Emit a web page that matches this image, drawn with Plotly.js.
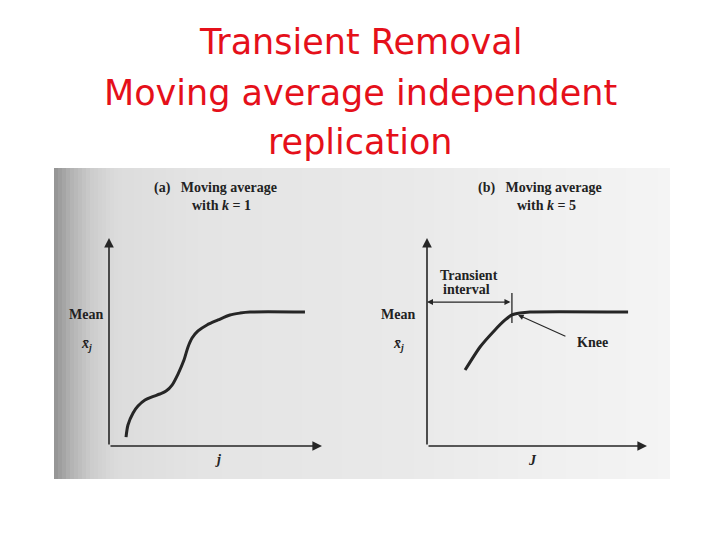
<!DOCTYPE html>
<html>
<head>
<meta charset="utf-8">
<script src="https://cdn.plot.ly/plotly-3.0.1.min.js"></script>
<style>html,body{margin:0;padding:0;background:#fff;}#chart{width:720px;height:540px;}</style>
</head>
<body>
<div id="chart"></div>
<script>
// ---- data (panel a: moving average with k = 1) ----
const aX = [0.80, 0.89, 1.13, 1.36, 1.69, 2.02, 2.39, 2.68, 2.96, 3.24, 3.52, 3.71, 3.90, 4.18, 4.60, 5.12, 5.68, 6.15, 6.62, 9.20];
const aY = [0.43, 1.01, 1.59, 1.92, 2.21, 2.36, 2.50, 2.64, 2.93, 3.46, 4.13, 4.76, 5.19, 5.53, 5.82, 6.06, 6.30, 6.39, 6.44, 6.44];
// ---- data (panel b: moving average with k = 5) ----
const bX = [1.73, 2.41, 3.09, 3.55, 3.86, 4.23, 4.68, 9.14];
const bY = [3.65, 4.76, 5.58, 6.06, 6.30, 6.39, 6.44, 6.44];
// knee / transient interval markers (data units of panel b)
const kneeX = 3.86;
const intervalTop = 7.36, intervalBottom = 5.91, intervalArrowY = 6.92;
const kneeLabelX = 6.36, kneeLabelY = 5.24, kneePointX = 4.14, kneePointY = 6.30;

// ---- text ----
const titleLines = ["Transient Removal", "Moving average independent", "replication"];
const panelTitles = [["(a)   Moving average", "with <i>k</i> = 1"], ["(b)   Moving average", "with <i>k</i> = 5"]];
const yLabel = "Mean", ySym = "<i>x̄</i><sub><i>j</i></sub>";
const xLabels = ["<i>j</i>", "<i>J</i>"];

const serif = {family: "Liberation Serif, DejaVu Serif, serif", size: 14, color: "#222"};
const ink = "#262626";

const traces = [
  {x: aX, y: aY, xaxis: "x", yaxis: "y", mode: "lines", line: {color: ink, width: 3, shape: "spline", smoothing: 0.8}, hoverinfo: "skip"},
  {x: bX, y: bY, xaxis: "x2", yaxis: "y2", mode: "lines", line: {color: ink, width: 3, shape: "spline", smoothing: 0.6}, hoverinfo: "skip"},
  {x: [kneeX, kneeX], y: [intervalBottom, intervalTop], xaxis: "x2", yaxis: "y2", mode: "lines", line: {color: ink, width: 1.3}, hoverinfo: "skip"}
];

// background scan gradient
const shapes = [];
const stops = [[54,150],[70,180],[90,205],[115,220],[200,228],[400,233],[550,240],[670,244]];
for (let px = 54; px < 670; px += 4) {
  let v = stops[stops.length-1][1];
  for (let i = 0; i < stops.length-1; i++) {
    if (px >= stops[i][0] && px < stops[i+1][0]) {
      const t = (px - stops[i][0]) / (stops[i+1][0] - stops[i][0]);
      v = Math.round(stops[i][1] + t*(stops[i+1][1]-stops[i][1]));
    }
  }
  shapes.push({type: "rect", xref: "paper", yref: "paper", x0: px/720, x1: Math.min(px+4,670)/720, y0: (540-479)/540, y1: (540-168)/540,
    fillcolor: `rgb(${v},${v},${v})`, line: {width: 0}, layer: "below"});
}

const ann = [];
// slide title
const titleY = [42, 93, 142];
titleLines.forEach((t, i) => ann.push({text: t, xref: "paper", yref: "paper", x: 0.5, y: 1 - titleY[i]/540, xanchor: "center", yanchor: "middle",
  showarrow: false, font: {family: "DejaVu Sans, sans-serif", size: 35, color: "#e5101a"}}));

// axes with arrows
[["x","y"],["x2","y2"]].forEach(([xa, ya]) => {
  ann.push({x: 0, y: 10, ax: 0, ay: 0, xref: xa, yref: ya, axref: xa, ayref: ya, text: "", showarrow: true, arrowhead: 2, arrowsize: 1.2, arrowwidth: 1.6, arrowcolor: ink});
  ann.push({x: 10, y: 0, ax: 0, ay: 0, xref: xa, yref: ya, axref: xa, ayref: ya, text: "", showarrow: true, arrowhead: 2, arrowsize: 1.2, arrowwidth: 1.6, arrowcolor: ink});
});

// panel titles
const ptX = [215, 540];
panelTitles.forEach((lines, i) => {
  ann.push({text: "<b>" + lines[0] + "</b>", xref: "paper", yref: "paper", x: ptX[i]/720, y: 1 - 188/540, xanchor: "center", yanchor: "middle", showarrow: false, font: serif});
  ann.push({text: "<b>" + lines[1] + "</b>", xref: "paper", yref: "paper", x: (ptX[i]+6)/720, y: 1 - 205/540, xanchor: "center", yanchor: "middle", showarrow: false, font: serif});
});

// y labels
[86, 398].forEach(px => {
  ann.push({text: "<b>" + yLabel + "</b>", xref: "paper", yref: "paper", x: px/720, y: 1 - 314/540, xanchor: "center", yanchor: "middle", showarrow: false, font: serif});
  ann.push({text: "<b>" + ySym + "</b>", xref: "paper", yref: "paper", x: px/720, y: 1 - 344/540, xanchor: "center", yanchor: "middle", showarrow: false, font: serif});
});
// x labels
ann.push({text: "<b>" + xLabels[0] + "</b>", xref: "paper", yref: "paper", x: 218/720, y: 1 - 459/540, xanchor: "center", yanchor: "middle", showarrow: false, font: serif});
ann.push({text: "<b>" + xLabels[1] + "</b>", xref: "paper", yref: "paper", x: 532/720, y: 1 - 460/540, xanchor: "center", yanchor: "middle", showarrow: false, font: serif});

// transient interval double arrow
ann.push({x: 0, y: intervalArrowY, ax: kneeX, ay: intervalArrowY, xref: "x2", yref: "y2", axref: "x2", ayref: "y2", text: "", showarrow: true,
  arrowhead: 2, startarrowhead: 2, arrowside: "end+start", arrowsize: 1, arrowwidth: 1.2, arrowcolor: ink});
ann.push({text: "<b>Transient</b>", xref: "paper", yref: "paper", x: 469/720, y: 1 - 275/540, xanchor: "center", yanchor: "middle", showarrow: false, font: serif});
ann.push({text: "<b>interval</b>", xref: "paper", yref: "paper", x: 466/720, y: 1 - 289/540, xanchor: "center", yanchor: "middle", showarrow: false, font: serif});
// knee
ann.push({x: kneePointX, y: kneePointY, ax: kneeLabelX, ay: kneeLabelY, xref: "x2", yref: "y2", axref: "x2", ayref: "y2", text: "", showarrow: true,
  arrowhead: 2, arrowsize: 1, arrowwidth: 1.1, arrowcolor: ink});
ann.push({text: "<b>Knee</b>", xref: "paper", yref: "paper", x: 592/720, y: 1 - 342/540, xanchor: "center", yanchor: "middle", showarrow: false, font: serif});

const axisStyle = {range: [0, 10], showgrid: false, zeroline: false, showline: false, showticklabels: false, ticks: "", fixedrange: true};
const layout = {
  width: 720, height: 540, margin: {l: 0, r: 0, t: 0, b: 0},
  paper_bgcolor: "#ffffff", plot_bgcolor: "rgba(0,0,0,0)", showlegend: false,
  xaxis: Object.assign({}, axisStyle, {domain: [109/720, 322/720], anchor: "y"}),
  yaxis: Object.assign({}, axisStyle, {domain: [(540-446)/540, (540-238)/540], anchor: "x"}),
  xaxis2: Object.assign({}, axisStyle, {domain: [427/720, 647/720], anchor: "y2"}),
  yaxis2: Object.assign({}, axisStyle, {domain: [(540-446)/540, (540-238)/540], anchor: "x2"}),
  shapes: shapes, annotations: ann
};
Plotly.newPlot("chart", traces, layout, {staticPlot: true, displayModeBar: false});
</script>
</body>
</html>
